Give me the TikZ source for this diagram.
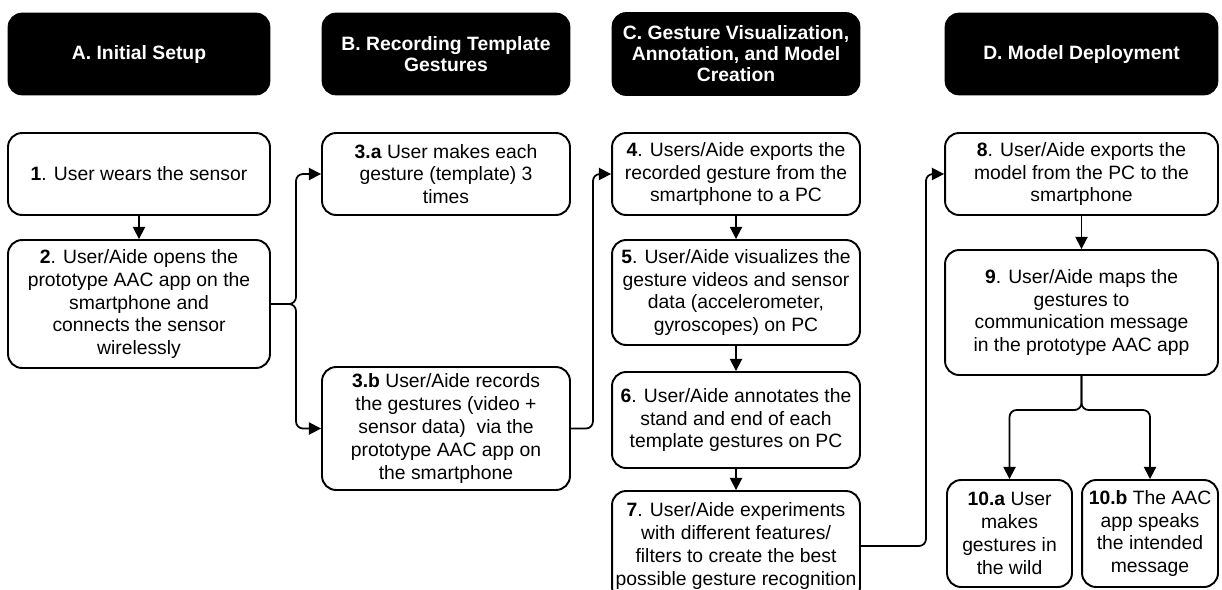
\documentclass[tikz,border=0pt]{standalone}
\usepackage{fontspec}
\setmainfont{Liberation Sans}
\usetikzlibrary{arrows.meta}

\begin{document}
\begin{tikzpicture}[x=0.02cm, y=0.02cm]
        \tikzstyle{every node}+=[inner sep=0pt, align=center, font=\fontsize{11}{13}\selectfont]
        \tikzstyle{head}=[rectangle, rounded corners=8pt, fill=black, draw=black, text=white, font=\fontsize{11}{12}\selectfont\bfseries]
        \tikzstyle{stepbox}=[rectangle, rounded corners=8pt, draw=black, line width=1.1pt, fill=white]
        \tikzstyle{arr}=[line width=1pt, rounded corners=4pt, -{Triangle[length=7pt,width=7pt]}]
        \useasboundingbox (0,0) rectangle (1222,-589);
        % headers
        \node [head, minimum width=5.24cm, minimum height=1.64cm] (hA) at (139,-54) {A. Initial Setup};
        \node [head, minimum width=4.96cm, minimum height=1.64cm] (hB) at (446,-54) {B. Recording Template\\Gestures};
        \node [head, minimum width=4.96cm, minimum height=1.66cm] (hC) at (736,-54) {C. Gesture Visualization,\\Annotation, and Model\\Creation};
        \node [head, minimum width=5.46cm, minimum height=1.64cm] (hD) at (1081.5,-54) {D. Model Deployment};
        % steps
        \node [stepbox, minimum width=5.24cm, minimum height=1.64cm] (s1) at (139,-174) {\textbf{1}. User wears the sensor};
        \node [stepbox, minimum width=5.24cm, minimum height=2.56cm] (s2) at (139,-304) {\textbf{2}. User/Aide opens the\\prototype AAC app on the\\smartphone and\\connects the sensor\\wirelessly};
        \node [stepbox, minimum width=4.96cm, minimum height=1.64cm] (s3a) at (446,-174) {\textbf{3.a} User makes each\\gesture (template) 3\\times};
        \node [stepbox, minimum width=4.96cm, minimum height=2.46cm] (s3b) at (446,-428.5) {\textbf{3.b} User/Aide records\\the gestures (video +\\sensor data)\ \ via the\\prototype AAC app on\\the smartphone};
        \node [stepbox, minimum width=4.96cm, minimum height=1.64cm] (s4) at (736,-174) {\textbf{4}. Users/Aide exports the\\recorded gesture from the\\smartphone to a PC};
        \node [stepbox, minimum width=4.96cm, minimum height=2.1cm] (s5) at (736,-292.5) {\textbf{5}. User/Aide visualizes the\\gesture videos and sensor\\data (accelerometer,\\gyroscopes) on PC};
        \node [stepbox, minimum width=4.96cm, minimum height=1.92cm] (s6) at (736,-420) {\textbf{6}. User/Aide annotates the\\stand and end of each\\template gestures on PC};
        \node [stepbox, minimum width=4.96cm, minimum height=2.2cm] (s7) at (736,-546) {\textbf{7}. User/Aide experiments\\with different features/\\filters to create the best\\possible gesture recognition};
        \node [stepbox, minimum width=5.46cm, minimum height=1.64cm] (s8) at (1081.5,-174) {\textbf{8}. User/Aide exports the\\model from the PC to the\\smartphone};
        \node [stepbox, minimum width=5.46cm, minimum height=2.5cm] (s9) at (1081.5,-312.5) {\textbf{9}. User/Aide maps the\\gestures to\\communication message\\in the prototype AAC app};
        \node [stepbox, minimum width=2.5cm, minimum height=2.14cm] (s10a) at (1009.5,-533.5) {\textbf{10.a} User\\makes\\gestures in\\the wild};
        \node [stepbox, minimum width=2.72cm, minimum height=2.14cm] (s10b) at (1150,-533.5) {\textbf{10.b} The AAC\\app speaks\\the intended\\message};
        % connectors
        \coordinate (j2) at (296,-304);
        \coordinate (j9) at (1081.5,-410);
        \draw [arr] (s1) -- (s2);
        \draw [arr] (s2.east) -- (j2) |- (s3a.west);
        \draw [arr] (s2.east) -- (j2) |- (s3b.west);
        \draw [arr] (s3b.east) -- ++(22,0) |- (s4.west);
        \draw [arr] (s4) -- (s5);
        \draw [arr] (s5) -- (s6);
        \draw [arr] (s6) -- (s7);
        \draw [arr] (s7.east) -- ++(65,0) |- (s8.west);
        \draw [arr] (s8) -- (s9);
        \draw [arr] (s9.south) -- (j9) -| (s10a.north);
        \draw [arr] (s9.south) -- (j9) -| (s10b.north);
\end{tikzpicture}
\end{document}
